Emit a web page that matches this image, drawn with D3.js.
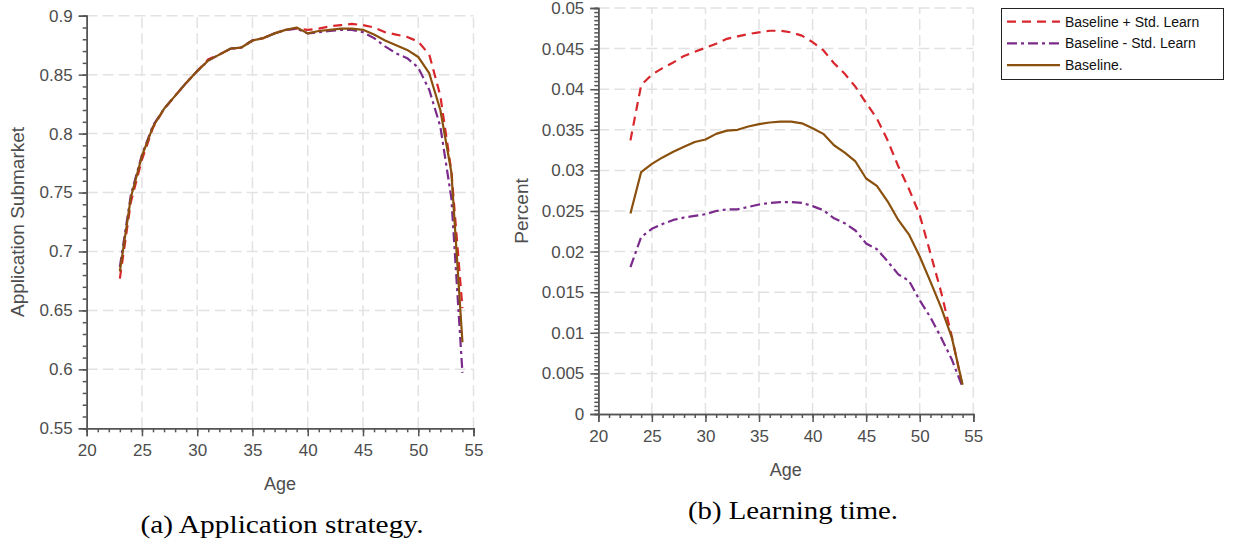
<!DOCTYPE html>
<html lang="en">
<head>
<meta charset="UTF-8">
<title>Application strategy and learning time</title>
<script src="https://cdnjs.cloudflare.com/ajax/libs/d3/7.8.5/d3.min.js"></script>
<style>
  body { margin: 0; background: #fff; }
  svg { display: block; }
</style>
</head>
<body>
<div id="draw-here"></div>
<script>
// ages on the x axis
var ages = [23, 24, 25, 26, 27, 28, 29, 30, 31, 32, 33, 34, 35, 36, 37, 38,
            39, 40, 41, 42, 43, 44, 45, 46, 47, 48, 49, 50, 51, 52, 53, 54];

// (a) application submarket
var appPlus = [0.677, 0.742, 0.778, 0.805, 0.821, 0.832, 0.843, 0.853, 0.863, 0.867, 0.872,
               0.873, 0.879, 0.881, 0.885, 0.888, 0.889, 0.888, 0.889, 0.891, 0.892, 0.893,
               0.892, 0.890, 0.886, 0.884, 0.882, 0.878, 0.867, 0.832, 0.768, 0.652];
var appMinus = [0.687, 0.748, 0.782, 0.807, 0.821, 0.832, 0.843, 0.853, 0.862, 0.867, 0.872,
                0.873, 0.879, 0.881, 0.885, 0.888, 0.889, 0.885, 0.886, 0.887, 0.888, 0.888,
                0.886, 0.881, 0.874, 0.868, 0.864, 0.856, 0.837, 0.806, 0.745, 0.597];
var appBase = [0.683, 0.746, 0.781, 0.806, 0.821, 0.832, 0.843, 0.853, 0.862, 0.867, 0.872,
               0.873, 0.879, 0.881, 0.885, 0.888, 0.890, 0.885, 0.887, 0.888, 0.889, 0.889,
               0.888, 0.884, 0.879, 0.875, 0.871, 0.865, 0.851, 0.820, 0.767, 0.623];

// (b) learning time
var learnPlus = [0.0337, 0.0405, 0.0418, 0.0426, 0.0433, 0.0441, 0.0446, 0.0451, 0.0456, 0.0462, 0.0465,
                 0.0468, 0.0470, 0.0472, 0.0472, 0.0470, 0.0466, 0.0458, 0.0448, 0.0432, 0.0419, 0.0403,
                 0.0383, 0.0364, 0.0337, 0.0305, 0.0277, 0.0245, 0.0198, 0.0150, 0.0095, 0.0034];
var learnMinus = [0.0181, 0.0218, 0.0228, 0.0234, 0.0239, 0.0242, 0.0244, 0.0246, 0.0250, 0.0252, 0.0252,
                  0.0255, 0.0258, 0.0260, 0.0261, 0.0261, 0.0260, 0.0256, 0.0251, 0.0241, 0.0235, 0.0226,
                  0.0210, 0.0203, 0.0188, 0.0172, 0.0164, 0.0140, 0.0119, 0.0094, 0.0067, 0.0033];
var learnBase = [0.0247, 0.0298, 0.0308, 0.0316, 0.0323, 0.0329, 0.0335, 0.0338, 0.0345, 0.0349, 0.0350,
                 0.0354, 0.0357, 0.0359, 0.0360, 0.0360, 0.0358, 0.0352, 0.0345, 0.0331, 0.0322, 0.0311,
                 0.0290, 0.0281, 0.0262, 0.0239, 0.0221, 0.0194, 0.0163, 0.0131, 0.0094, 0.0036];

var xTicks = [20, 25, 30, 35, 40, 45, 50, 55];
var appTicks = [0.55, 0.6, 0.65, 0.7, 0.75, 0.8, 0.85, 0.9];
var learnTicks = [0, 0.005, 0.01, 0.015, 0.02, 0.025, 0.03, 0.035, 0.04, 0.045, 0.05];

var seriesNames = ["Baseline + Std. Learn", "Baseline - Std. Learn", "Baseline."];

var colors = ["#d9262c", "#7a2a8b", "#8a500d"];
var dashes = ["9,6", "10,4,3,4", null];

var W = 1233, H = 544;
var svg = d3.select("#draw-here").append("svg")
    .attr("width", W).attr("height", H);

var tickFont = "'Liberation Sans', Arial, sans-serif";
var axisColor = "#555";
var textColor = "#4d4d4d";

function drawPanel(opt) {
    var x = d3.scaleLinear().domain([20, 55]).range([opt.left, opt.right]);
    var y = d3.scaleLinear().domain(opt.yDomain).range([opt.bottom, opt.top]);
    var g = svg.append("g");

    // dashed grid
    g.append("g").selectAll("line")
        .data(xTicks.slice(1))
        .enter().append("line")
        .attr("x1", function (d) { return x(d); })
        .attr("x2", function (d) { return x(d); })
        .attr("y1", opt.bottom).attr("y2", opt.top)
        .attr("stroke", "#e2e2e2").attr("stroke-width", 1.5)
        .attr("stroke-dasharray", "11,5");
    g.append("g").selectAll("line")
        .data(opt.yTicks.slice(1))
        .enter().append("line")
        .attr("x1", opt.left).attr("x2", opt.right)
        .attr("y1", function (d) { return y(d); })
        .attr("y2", function (d) { return y(d); })
        .attr("stroke", "#e2e2e2").attr("stroke-width", 1.5)
        .attr("stroke-dasharray", "11,5");

    // minor ticks
    var xMinor = d3.range(20, 55.01, 1);
    var yMinor = d3.range(opt.yDomain[0], opt.yDomain[1] + opt.yMinorStep / 2, opt.yMinorStep);
    g.append("g")
        .attr("transform", "translate(0," + opt.bottom + ")")
        .call(d3.axisBottom(x).tickValues(xMinor).tickSize(4).tickFormat(""))
        .call(styleAxis);
    g.append("g")
        .attr("transform", "translate(" + opt.left + ",0)")
        .call(d3.axisLeft(y).tickValues(yMinor).tickSize(4).tickFormat(""))
        .call(styleAxis);

    // major ticks
    g.append("g")
        .attr("transform", "translate(0," + opt.bottom + ")")
        .call(d3.axisBottom(x).tickValues(xTicks).tickSize(8).tickPadding(8).tickFormat(d3.format("d")))
        .call(styleAxis);
    g.append("g")
        .attr("transform", "translate(" + opt.left + ",0)")
        .call(d3.axisLeft(y).tickValues(opt.yTicks).tickSize(8).tickPadding(6)
            .tickFormat(function (d) { return +d.toFixed(4) + ""; }))
        .call(styleAxis);

    // lines
    var line = d3.line()
        .x(function (d) { return x(d[0]); })
        .y(function (d) { return y(d[1]); });
    opt.series.forEach(function (s, i) {
        g.append("path")
            .datum(ages.map(function (a, j) { return [a, s[j]]; }))
            .attr("d", line)
            .attr("fill", "none")
            .attr("stroke", colors[i])
            .attr("stroke-width", 2.2)
            .attr("stroke-dasharray", dashes[i])
            .attr("stroke-linejoin", "round");
    });

    // axis labels
    g.append("text")
        .attr("x", (opt.left + opt.right) / 2)
        .attr("y", opt.bottom + 62)
        .attr("text-anchor", "middle")
        .attr("font-family", tickFont).attr("font-size", "18px")
        .attr("fill", textColor)
        .text("Age");
    g.append("text")
        .attr("transform", "translate(" + opt.yLabelX + "," + (opt.top + opt.bottom) / 2 + ") rotate(-90)")
        .attr("text-anchor", "middle")
        .attr("font-family", tickFont).attr("font-size", "19px")
        .attr("fill", textColor)
        .text(opt.yLabel);

    // caption
    g.append("text")
        .attr("x", opt.captionX).attr("y", opt.captionY)
        .attr("text-anchor", "middle")
        .attr("font-family", "'Liberation Serif', 'Times New Roman', serif")
        .attr("font-size", "25px")
        .attr("textLength", opt.captionW)
        .attr("lengthAdjust", "spacingAndGlyphs")
        .attr("fill", "#000")
        .text(opt.caption);
}

function styleAxis(sel) {
    sel.select(".domain").attr("stroke", axisColor).attr("stroke-width", 1.5);
    sel.selectAll(".tick line").attr("stroke", axisColor).attr("stroke-width", 1.5);
    sel.selectAll(".tick text")
        .attr("fill", textColor)
        .attr("font-family", tickFont)
        .attr("font-size", "17px");
}

drawPanel({
    left: 86.7, right: 473.5, top: 15.7, bottom: 428.3,
    yDomain: [0.55, 0.9], yTicks: appTicks, yMinorStep: 0.01,
    series: [appPlus, appMinus, appBase],
    yLabel: "Application Submarket", yLabelX: 24,
    caption: "(a) Application strategy.", captionX: 282, captionY: 533, captionW: 283
});

drawPanel({
    left: 598.3, right: 973.3, top: 8, bottom: 414,
    yDomain: [0, 0.05], yTicks: learnTicks, yMinorStep: 0.0005,
    series: [learnPlus, learnMinus, learnBase],
    yLabel: "Percent", yLabelX: 528,
    caption: "(b) Learning time.", captionX: 793, captionY: 519, captionW: 210
});

// legend
var lg = svg.append("g");
lg.append("rect")
    .attr("x", 1001.5).attr("y", 8.5).attr("width", 222).attr("height", 71)
    .attr("fill", "#fff").attr("stroke", "#222").attr("stroke-width", 1);
seriesNames.forEach(function (name, i) {
    var yy = 21.7 + i * 21.7;
    lg.append("line")
        .attr("x1", 1007).attr("x2", 1060)
        .attr("y1", yy).attr("y2", yy)
        .attr("stroke", colors[i]).attr("stroke-width", 2.2)
        .attr("stroke-dasharray", dashes[i]);
    lg.append("text")
        .attr("x", 1065).attr("y", yy + 5)
        .attr("font-family", tickFont).attr("font-size", "14px")
        .attr("fill", "#111")
        .text(name);
});
</script>
</body>
</html>
